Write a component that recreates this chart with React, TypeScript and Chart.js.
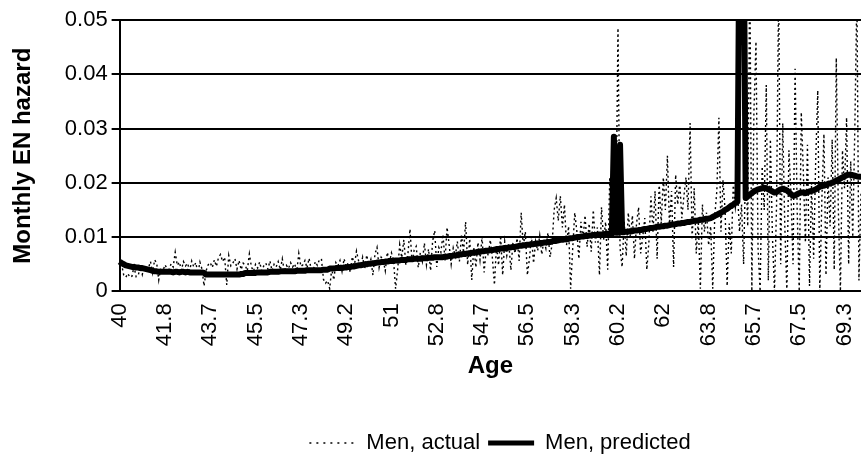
import React, { useEffect, useRef } from "react";
import { Chart, registerables } from "chart.js";

Chart.register(...registerables);

const START_AGE = 40;
const MONTH_COUNT = 361;
const categories: string[] = Array.from({ length: MONTH_COUNT }, (_, i) => (START_AGE + i / 12).toFixed(3));
const TICK_EVERY = 22;
const tickLabels = ["40", "41.8", "43.7", "45.5", "47.3", "49.2", "51", "52.8", "54.7", "56.5", "58.3", "60.2", "62", "63.8", "65.7", "67.5", "69.3"];
const yTicks = [0, 0.01, 0.02, 0.03, 0.04, 0.05];

// Monthly values, one row per year of age (40 .. 69), then age 70.0
const menActual = [
  0.0060, 0.0049, 0.0030, 0.0026, 0.0033, 0.0026, 0.0028, 0.0046, 0.0027, 0.0029, 0.0045, 0.0031,
  0.0047, 0.0038, 0.0043, 0.0055, 0.0034, 0.0058, 0.0052, 0.0021, 0.0044, 0.0037, 0.0049, 0.0042,
  0.0040, 0.0051, 0.0045, 0.0072, 0.0048, 0.0054, 0.0039, 0.0055, 0.0047, 0.0052, 0.0038, 0.0056,
  0.0045, 0.0053, 0.0033, 0.0054, 0.0041, 0.0010, 0.0038, 0.0049, 0.0053, 0.0044, 0.0058, 0.0046,
  0.0062, 0.0068, 0.0055, 0.0063, 0.0012, 0.0066, 0.0047, 0.0052, 0.0060, 0.0041, 0.0057, 0.0040,
  0.0052, 0.0048, 0.0038, 0.0069, 0.0045, 0.0037, 0.0050, 0.0043, 0.0054, 0.0038, 0.0047, 0.0052,
  0.0041, 0.0056, 0.0038, 0.0050, 0.0045, 0.0055, 0.0040, 0.0060, 0.0036, 0.0048, 0.0042, 0.0053,
  0.0045, 0.0051, 0.0036, 0.0070, 0.0046, 0.0049, 0.0057, 0.0043, 0.0061, 0.0041, 0.0038, 0.0055,
  0.0048, 0.0058, 0.0060, 0.0022, 0.0015, 0.0020, 0.0005, 0.0042, 0.0021, 0.0053, 0.0047, 0.0057,
  0.0037, 0.0060, 0.0045, 0.0053, 0.0035, 0.0064, 0.0048, 0.0074, 0.0057, 0.0046, 0.0063, 0.0041,
  0.0067, 0.0047, 0.0059, 0.0030, 0.0069, 0.0081, 0.0044, 0.0063, 0.0058, 0.0038, 0.0072, 0.0052,
  0.0071, 0.0058, 0.0005, 0.0040, 0.0086, 0.0062, 0.0095, 0.0048, 0.0069, 0.0115, 0.0052, 0.0076,
  0.0083, 0.0044, 0.0071, 0.0055, 0.0089, 0.0049, 0.0078, 0.0038, 0.0093, 0.0112, 0.0045, 0.0081,
  0.0072, 0.0105, 0.0057, 0.0118, 0.0086, 0.0050, 0.0080, 0.0065, 0.0092, 0.0055, 0.0103, 0.0071,
  0.0128, 0.0049, 0.0097, 0.0021, 0.0082, 0.0044, 0.0090, 0.0058, 0.0101, 0.0035, 0.0079, 0.0066,
  0.0095, 0.0062, 0.0012, 0.0085, 0.0048, 0.0103, 0.0030, 0.0092, 0.0066, 0.0088, 0.0039, 0.0090,
  0.0070, 0.0098, 0.0056, 0.0145, 0.0082, 0.0110, 0.0030, 0.0060, 0.0101, 0.0052, 0.0092, 0.0075,
  0.0103, 0.0068, 0.0094, 0.0079, 0.0108, 0.0063, 0.0087, 0.0150, 0.0172, 0.0130, 0.0176, 0.0118,
  0.0160, 0.0085, 0.0120, 0.0005, 0.0078, 0.0145, 0.0112, 0.0060, 0.0128, 0.0095, 0.0140, 0.0082,
  0.0125, 0.0073, 0.0150, 0.0090, 0.0118, 0.0030, 0.0155, 0.0095, 0.0128, 0.0040, 0.0210, 0.0125,
  0.0230, 0.0120, 0.0485, 0.0080, 0.0045, 0.0130, 0.0065, 0.0145, 0.0100, 0.0140, 0.0060, 0.0125,
  0.0155, 0.0070, 0.0100, 0.0135, 0.0040, 0.0090, 0.0175, 0.0110, 0.0185, 0.0060, 0.0200, 0.0125,
  0.0210, 0.0150, 0.0250, 0.0120, 0.0185, 0.0045, 0.0215, 0.0160, 0.0200, 0.0135, 0.0175, 0.0210,
  0.0150, 0.0310, 0.0095, 0.0190, 0.0070, 0.0130, 0.0005, 0.0160, 0.0110, 0.0145, 0.0085, 0.0120,
  0.0005, 0.0140, 0.0185, 0.0320, 0.0110, 0.0205, 0.0150, 0.0010, 0.0125, 0.0070, 0.0200, 0.0155,
  0.0185, 0.0110, 0.0160, 0.0050, 0.0240, 0.0120, 0.0600, 0.0000, 0.0330, 0.0460, 0.0080, 0.0000,
  0.0230, 0.0150, 0.0380, 0.0020, 0.0280, 0.0100, 0.0000, 0.0160, 0.0560, 0.0050, 0.0310, 0.0120,
  0.0000, 0.0260, 0.0180, 0.0050, 0.0410, 0.0150, 0.0000, 0.0330, 0.0220, 0.0090, 0.0270, 0.0010,
  0.0200, 0.0060, 0.0240, 0.0370, 0.0000, 0.0170, 0.0290, 0.0030, 0.0210, 0.0120, 0.0280, 0.0040,
  0.0430, 0.0150, 0.0000, 0.0260, 0.0190, 0.0320, 0.0050, 0.0240, 0.0100, 0.0300, 0.0550, 0.0020,
  0.0180,
];

const menPredicted = [
  0.0055, 0.0052, 0.0050, 0.0048, 0.0047, 0.0046, 0.0045, 0.0045, 0.0044, 0.0044, 0.0043, 0.0043,
  0.0042, 0.0041, 0.0040, 0.0039, 0.0038, 0.0037, 0.0037, 0.0036, 0.0036, 0.0036, 0.0036, 0.0036,
  0.0036, 0.0036, 0.0035, 0.0036, 0.0036, 0.0035, 0.0036, 0.0036, 0.0035, 0.0036, 0.0035, 0.0035,
  0.0035, 0.0035, 0.0035, 0.0035, 0.0035, 0.0034, 0.0031, 0.0031, 0.0031, 0.0031, 0.0031, 0.0031,
  0.0031, 0.0031, 0.0031, 0.0031, 0.0031, 0.0031, 0.0031, 0.0031, 0.0031, 0.0031, 0.0031, 0.0032,
  0.0032, 0.0034, 0.0034, 0.0034, 0.0034, 0.0034, 0.0034, 0.0035, 0.0035, 0.0035, 0.0035, 0.0035,
  0.0035, 0.0036, 0.0036, 0.0036, 0.0036, 0.0036, 0.0037, 0.0037, 0.0037, 0.0037, 0.0037, 0.0037,
  0.0037, 0.0037, 0.0038, 0.0038, 0.0038, 0.0038, 0.0038, 0.0039, 0.0039, 0.0039, 0.0039, 0.0039,
  0.0039, 0.0039, 0.0039, 0.0040, 0.0040, 0.0040, 0.0042, 0.0042, 0.0042, 0.0043, 0.0043, 0.0043,
  0.0043, 0.0044, 0.0044, 0.0045, 0.0045, 0.0046, 0.0046, 0.0047, 0.0048, 0.0048, 0.0049, 0.0050,
  0.0050, 0.0051, 0.0051, 0.0052, 0.0052, 0.0053, 0.0053, 0.0054, 0.0054, 0.0055, 0.0055, 0.0056,
  0.0056, 0.0056, 0.0057, 0.0057, 0.0057, 0.0058, 0.0058, 0.0058, 0.0059, 0.0059, 0.0059, 0.0060,
  0.0060, 0.0060, 0.0060, 0.0061, 0.0061, 0.0061, 0.0062, 0.0062, 0.0062, 0.0063, 0.0063, 0.0063,
  0.0063, 0.0063, 0.0064, 0.0064, 0.0065, 0.0065, 0.0066, 0.0066, 0.0067, 0.0068, 0.0068, 0.0069,
  0.0069, 0.0070, 0.0070, 0.0071, 0.0071, 0.0072, 0.0073, 0.0073, 0.0074, 0.0074, 0.0075, 0.0075,
  0.0076, 0.0076, 0.0077, 0.0078, 0.0078, 0.0079, 0.0079, 0.0080, 0.0080, 0.0081, 0.0081, 0.0082,
  0.0082, 0.0083, 0.0084, 0.0084, 0.0085, 0.0085, 0.0086, 0.0086, 0.0087, 0.0087, 0.0088, 0.0088,
  0.0089, 0.0089, 0.0090, 0.0090, 0.0091, 0.0091, 0.0092, 0.0093, 0.0093, 0.0094, 0.0095, 0.0095,
  0.0096, 0.0096, 0.0097, 0.0098, 0.0098, 0.0099, 0.0100, 0.0100, 0.0101, 0.0101, 0.0102, 0.0102,
  0.0103, 0.0103, 0.0104, 0.0104, 0.0104, 0.0105, 0.0105, 0.0105, 0.0106, 0.0106, 0.0106, 0.0106,
  0.0285, 0.0108, 0.0108, 0.0270, 0.0109, 0.0109, 0.0110, 0.0110, 0.0111, 0.0111, 0.0112, 0.0112,
  0.0113, 0.0113, 0.0114, 0.0115, 0.0115, 0.0116, 0.0117, 0.0117, 0.0118, 0.0119, 0.0119, 0.0120,
  0.0120, 0.0121, 0.0121, 0.0122, 0.0123, 0.0123, 0.0124, 0.0125, 0.0125, 0.0126, 0.0126, 0.0127,
  0.0128, 0.0128, 0.0129, 0.0130, 0.0130, 0.0131, 0.0132, 0.0132, 0.0133, 0.0134, 0.0134, 0.0135,
  0.0137, 0.0139, 0.0141, 0.0143, 0.0145, 0.0147, 0.0150, 0.0152, 0.0155, 0.0158, 0.0160, 0.0163,
  0.0165, 0.0700, 0.0850, 0.0700, 0.0172, 0.0175, 0.0178, 0.0181, 0.0184, 0.0186, 0.0188, 0.0189,
  0.0190, 0.0191, 0.0190, 0.0188, 0.0186, 0.0184, 0.0182, 0.0183, 0.0186, 0.0188, 0.0189, 0.0188,
  0.0186, 0.0183, 0.0179, 0.0176, 0.0177, 0.0179, 0.0181, 0.0182, 0.0182, 0.0181, 0.0183, 0.0184,
  0.0185, 0.0186, 0.0188, 0.0190, 0.0193, 0.0194, 0.0195, 0.0196, 0.0198, 0.0199, 0.0200, 0.0202,
  0.0204, 0.0206, 0.0208, 0.0210, 0.0212, 0.0214, 0.0215, 0.0215, 0.0214, 0.0213, 0.0212, 0.0211,
  0.0211,
];

const FONT = "'Liberation Sans', Arial, sans-serif";
// The reference is a crop of a wider chart: the canvas is wider and clipped at 861px
const CANVAS_W = 1000;
const VISIBLE_W = 861;
const H = 468;

export default function App() {
  const canvasRef = useRef<HTMLCanvasElement | null>(null);

  useEffect(() => {
    const canvas = canvasRef.current;
    if (!canvas) return;
    Chart.defaults.font.family = FONT;
    Chart.defaults.color = "#000";
    const chart = new Chart(canvas, {
      type: "line",
      data: {
        labels: categories,
        datasets: [
          {
            label: "Men, actual",
            data: menActual,
            borderColor: "#000",
            backgroundColor: "#000",
            borderWidth: 1.4,
            borderDash: [2, 3],
            pointRadius: 0,
            fill: false,
            tension: 0,
            order: 1,
            yAxisID: "y",
          },
          {
            label: "Men, predicted",
            data: menPredicted,
            borderColor: "#000",
            backgroundColor: "#000",
            borderWidth: 6,
            borderJoinStyle: "round",
            pointRadius: 0,
            fill: false,
            tension: 0,
            order: 0,
            yAxisID: "y",
          },
        ],
      },
      options: {
        responsive: false,
        animation: false,
        devicePixelRatio: 1,
        layout: { padding: { left: 0, top: 20, right: 0, bottom: 4 } },
        plugins: {
          tooltip: { enabled: false },
          legend: {
            position: "bottom",
            labels: {
              color: "#000",
              font: { size: 22, family: FONT },
              usePointStyle: true,
              pointStyle: "line",
              pointStyleWidth: 46,
              padding: 8,
              sort: (a: any, b: any) => a.datasetIndex - b.datasetIndex,
              generateLabels: (ch: any) => {
                const items = (Chart.defaults.plugins.legend.labels as any).generateLabels(ch);
                return items.map((it: any) => ({
                  ...it,
                  pointStyle: "line",
                  strokeStyle: "#000",
                  lineDash: it.datasetIndex === 0 ? [2, 5] : [],
                  lineWidth: it.datasetIndex === 0 ? 1.4 : 5,
                }));
              },
            },
          },
        },
        scales: {
          x: {
            type: "category",
            grid: { display: false },
            border: { display: true, color: "#000", width: 2 },
            ticks: {
              autoSkip: false,
              minRotation: 90,
              maxRotation: 90,
              color: "#000",
              padding: 4,
              font: { size: 22, family: FONT },
              callback: (_v: any, index: number) =>
                index % TICK_EVERY === 0 ? tickLabels[index / TICK_EVERY] : null,
            },
            title: {
              display: true,
              text: "Age",
              color: "#000",
              font: { size: 24, weight: "bold", family: FONT },
              padding: { top: 2, bottom: 43 },
            },
          },
          y: {
            min: 0,
            max: 0.05,
            afterBuildTicks: (scale: any) => {
              scale.ticks = yTicks.map((v) => ({ value: v }));
            },
            grid: { color: "#000", lineWidth: 2, tickLength: 8, drawTicks: true },
            border: { display: true, color: "#000", width: 2 },
            ticks: {
              color: "#000",
              padding: 4,
              font: { size: 22, family: FONT },
              callback: (v: any) => String(Number(v)),
            },
            title: {
              display: true,
              text: "Monthly EN hazard",
              color: "#000",
              font: { size: 24, weight: "bold", family: FONT },
              padding: { top: 9, bottom: 23 },
            },
          },
          yRightSpace: {
            position: "right",
            display: true,
            grid: { display: false },
            border: { display: false },
            ticks: { display: false },
            afterFit: (scale: any) => {
              scale.width = CANVAS_W - VISIBLE_W;
            },
          },
        },
      },
    });
    return () => chart.destroy();
  }, []);

  return (
    <div style={{ position: "absolute", left: 0, top: 0, width: VISIBLE_W, height: H, overflow: "hidden", background: "#fff" }}>
      <canvas ref={canvasRef} width={CANVAS_W} height={H} style={{ width: CANVAS_W, height: H, display: "block" }} />
    </div>
  );
}
